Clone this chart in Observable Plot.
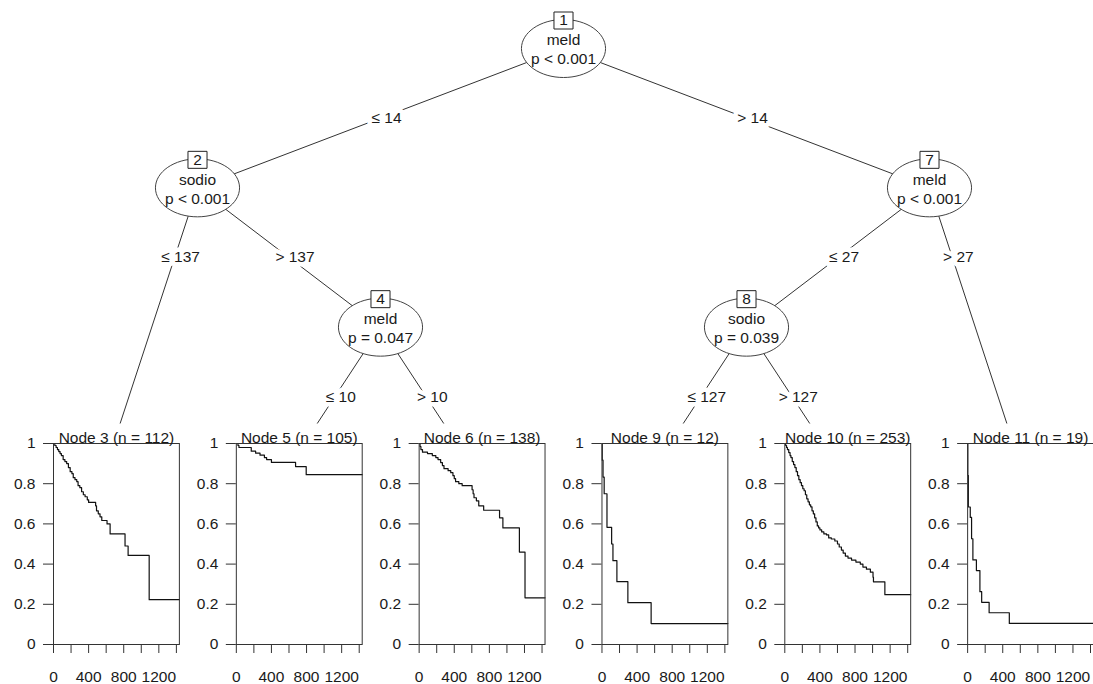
<!DOCTYPE html>
<html>
<head>
<meta charset="utf-8">
<script src="https://cdn.jsdelivr.net/npm/d3@7"></script>
<script src="https://cdn.jsdelivr.net/npm/@observablehq/plot@0.6"></script>
<style>
  body { margin: 0; background: #fff; }
  #chart { position: relative; width: 1093px; height: 684px; overflow: hidden; background: #fff; }
  #chart svg { position: absolute; left: 0; }
</style>
</head>
<body>
<div id="chart"></div>
<script>
// ---- Tree structure (inner nodes) ----
const innerIds   = [1, 2, 4, 7, 8];
const innerVars  = ["meld", "sodio", "meld", "meld", "sodio"];
const innerP     = ["p < 0.001", "p < 0.001", "p = 0.047", "p < 0.001", "p = 0.039"];
const leftKid    = [2, 3, 5, 8, 9];
const rightKid   = [7, 4, 6, 11, 10];
const leftLabel  = ["≤ 14", "≤ 137", "≤ 10", "≤ 27", "≤ 127"];
const rightLabel = ["> 14", "> 137", "> 10", "> 27", "> 127"];

// ---- Terminal nodes ----
const termIds = [3, 5, 6, 9, 10, 11];
const termN   = [112, 105, 138, 12, 253, 19];

// ---- Kaplan-Meier estimates per terminal node (time in days, survival) ----
const km3Time = [0, 15, 30, 45, 60, 75, 90, 110, 130, 150, 170, 190, 210, 225, 245, 265, 280, 300, 320, 340, 360, 385, 400, 480, 490, 510, 530, 550, 610, 645, 815, 850, 1090];
const km3Surv = [1, 0.99, 0.98, 0.97, 0.96, 0.95, 0.94, 0.92, 0.91, 0.90, 0.88, 0.86, 0.85, 0.83, 0.82, 0.81, 0.79, 0.78, 0.76, 0.745, 0.735, 0.72, 0.707, 0.69, 0.665, 0.65, 0.635, 0.617, 0.60, 0.55, 0.49, 0.443, 0.223];

const km5Time = [0, 19, 30, 170, 220, 270, 320, 345, 400, 675, 796];
const km5Surv = [1, 0.99, 0.98, 0.962, 0.952, 0.942, 0.93, 0.92, 0.906, 0.885, 0.845];

const km6Time = [0, 10, 20, 38, 95, 150, 190, 215, 245, 265, 283, 330, 360, 385, 400, 415, 452, 490, 603, 615, 625, 652, 679, 735, 916, 954, 1142, 1206];
const km6Surv = [1, 0.985, 0.97, 0.957, 0.95, 0.94, 0.93, 0.92, 0.905, 0.89, 0.875, 0.865, 0.855, 0.84, 0.825, 0.81, 0.80, 0.79, 0.77, 0.75, 0.73, 0.715, 0.69, 0.668, 0.63, 0.58, 0.46, 0.232];

const km9Time = [0, 3, 12, 25, 57, 110, 125, 170, 295, 560];
const km9Surv = [1, 0.917, 0.833, 0.75, 0.583, 0.5, 0.417, 0.3125, 0.208, 0.104];

const km10Time = [0, 10, 20, 30, 45, 60, 70, 85, 100, 115, 130, 145, 160, 175, 190, 205, 220, 235, 250, 265, 280, 295, 310, 325, 340, 355, 370, 385, 400, 420, 445, 475, 500, 530, 570, 600, 620, 645, 665, 690, 720, 760, 810, 860, 890, 930, 975, 1005, 1010, 1140];
const km10Surv = [1, 0.99, 0.98, 0.97, 0.955, 0.94, 0.93, 0.91, 0.895, 0.88, 0.86, 0.84, 0.82, 0.805, 0.79, 0.775, 0.765, 0.745, 0.725, 0.71, 0.695, 0.685, 0.665, 0.65, 0.63, 0.61, 0.59, 0.58, 0.57, 0.56, 0.55, 0.545, 0.53, 0.525, 0.515, 0.50, 0.485, 0.47, 0.455, 0.44, 0.43, 0.42, 0.41, 0.40, 0.385, 0.375, 0.36, 0.335, 0.312, 0.248];

const km11Time = [0, 2, 8, 30, 45, 60, 100, 140, 160, 245, 475];
const km11Surv = [1, 0.842, 0.684, 0.632, 0.526, 0.421, 0.368, 0.263, 0.21, 0.158, 0.105];

const maxFollowUp = 1434;

// ---- Axis ticks ----
const timeTicks  = [0, 200, 400, 600, 800, 1000, 1200, 1400];
const survTicks  = [0, 0.2, 0.4, 0.6, 0.8, 1];

const font = "'Liberation Sans', Arial, Helvetica, sans-serif";
const ink = "#1a1a1a";

// ---- Tree layout: terminals at unit spacing, inner node between its subtrees ----
const kids = new Map(innerIds.map((id, i) => [id, [leftKid[i], rightKid[i]]]));
const nTerm = (id) => kids.has(id) ? nTerm(kids.get(id)[0]) + nTerm(kids.get(id)[1]) : 1;
const pos = new Map();
function place(id, x0, depth) {
  if (kids.has(id)) {
    const [l, r] = kids.get(id);
    const nl = nTerm(l);
    pos.set(id, {x: x0 + nl, depth});
    place(l, x0, depth + 1);
    place(r, x0 + nl, depth + 1);
  } else {
    pos.set(id, {x: x0 + 0.5, depth: 3});
  }
}
place(1, 0, 0);

const treeY = {domain: [0, 3], range: [48, 466]};
// edges into terminal nodes stop where the panel viewport begins
const panelTopDepth = d3.scaleLinear(treeY.domain, treeY.range).invert(423);

const edges = [];
innerIds.forEach((id, i) => {
  const p = pos.get(id);
  [[leftKid[i], leftLabel[i]], [rightKid[i], rightLabel[i]]].forEach(([k, label]) => {
    const c = pos.get(k);
    const span = c.depth - p.depth;
    const tEnd = kids.has(k) ? 1 : (panelTopDepth - p.depth) / span;
    const tLab = 0.5 / span;
    edges.push({
      x1: p.x, y1: p.depth,
      x2: p.x + (c.x - p.x) * tEnd, y2: p.depth + span * tEnd,
      lx: p.x + (c.x - p.x) * tLab, ly: p.depth + 0.5,
      label
    });
  });
});

const inner = innerIds.map((id, i) => ({id, v: innerVars[i], p: innerP[i], ...pos.get(id)}));

// ellipse and id-box symbols for inner nodes
const ellipse = {
  draw(ctx, size) {
    const ry = Math.sqrt(size / Math.PI), rx = ry * 1.45, k = 0.5522847498;
    ctx.moveTo(rx, 0);
    ctx.bezierCurveTo(rx, ry * k, rx * k, ry, 0, ry);
    ctx.bezierCurveTo(-rx * k, ry, -rx, ry * k, -rx, 0);
    ctx.bezierCurveTo(-rx, -ry * k, -rx * k, -ry, 0, -ry);
    ctx.bezierCurveTo(rx * k, -ry, rx, -ry * k, rx, 0);
    ctx.closePath();
  }
};
const idBox = {
  draw(ctx, size) {
    const h = Math.sqrt(size / Math.PI), w = h * 1.12;
    ctx.rect(-w, -h, 2 * w, 2 * h);
  }
};

const tree = Plot.plot({
  width: 1093,
  height: 684,
  margin: 0,
  x: {domain: [0, 6], range: [14, 1112], axis: null},
  y: {...treeY, axis: null},
  style: {fontFamily: font, fontSize: "15px", background: "transparent", color: ink},
  marks: [
    Plot.link(edges, {x1: "x1", y1: "y1", x2: "x2", y2: "y2", stroke: "#333", strokeWidth: 1}),
    Plot.text(edges, {x: "lx", y: "ly", text: "label", dx: 6, fill: ink, stroke: "white", strokeWidth: 9, paintOrder: "stroke", fontSize: 15.5}),
    Plot.dot(inner, {x: "x", y: "depth", symbol: ellipse, r: 29, fill: "white", stroke: "#444", strokeWidth: 1}),
    Plot.dot(inner, {x: "x", y: "depth", symbol: idBox, r: 8.5, dy: -28, fill: "white", stroke: "#222", strokeWidth: 1}),
    Plot.text(inner, {x: "x", y: "depth", text: (d) => String(d.id), dy: -28, fill: ink, fontSize: 15.5}),
    Plot.text(inner, {x: "x", y: "depth", text: "v", dy: -8, fill: ink, fontSize: 15.5}),
    Plot.text(inner, {x: "x", y: "depth", text: "p", dy: 11, fill: ink, fontSize: 15.5})
  ]
});
tree.style.top = "0px";

// ---- Survival panels, one facet per terminal node ----
const titles = termIds.map((id, i) => `Node ${id} (n = ${termN[i]})`);
const series = [
  [km3Time, km3Surv], [km5Time, km5Surv], [km6Time, km6Surv],
  [km9Time, km9Surv], [km10Time, km10Surv], [km11Time, km11Surv]
];
const rows = [];
series.forEach(([t, s], i) => {
  t.forEach((time, j) => rows.push({node: titles[i], time, surv: s[j]}));
  rows.push({node: titles[i], time: maxFollowUp, surv: s[s.length - 1]});
});

const panels = Plot.plot({
  width: 1093,
  height: 264,
  marginTop: 23,
  marginBottom: 40,
  marginLeft: 53,
  marginRight: 0,
  fx: {domain: titles, paddingInner: 0.3115, paddingOuter: 0, axis: null, round: false},
  x: {domain: [0, maxFollowUp]},
  y: {domain: [0, 1]},
  style: {fontFamily: font, fontSize: "15px", background: "transparent", color: ink, overflow: "visible"},
  marks: [
    Plot.axisY({facetAnchor: null, ticks: survTicks, tickFormat: (d) => String(d), tickSize: 10, tickPadding: 8, label: null, fontSize: 15.5, stroke: "#333"}),
    Plot.axisX({facetAnchor: null, ticks: timeTicks, tickFormat: (d) => d % 400 === 0 ? String(d) : "", tickSize: 9, tickPadding: 17, label: null, fontSize: 15.5, stroke: "#333"}),
    Plot.line(rows, {x: "time", y: "surv", fx: "node", curve: "step-after", stroke: "#111", strokeWidth: 1.2}),
    Plot.frame({stroke: "#333", strokeWidth: 1}),
    Plot.text(titles, {fx: (d) => d, text: (d) => d, frameAnchor: "top", lineAnchor: "bottom", dy: -1, fill: ink, fontSize: 15.5})
  ]
});
panels.style.top = "420px";

const chart = document.getElementById("chart");
chart.append(tree, panels);
</script>
</body>
</html>
